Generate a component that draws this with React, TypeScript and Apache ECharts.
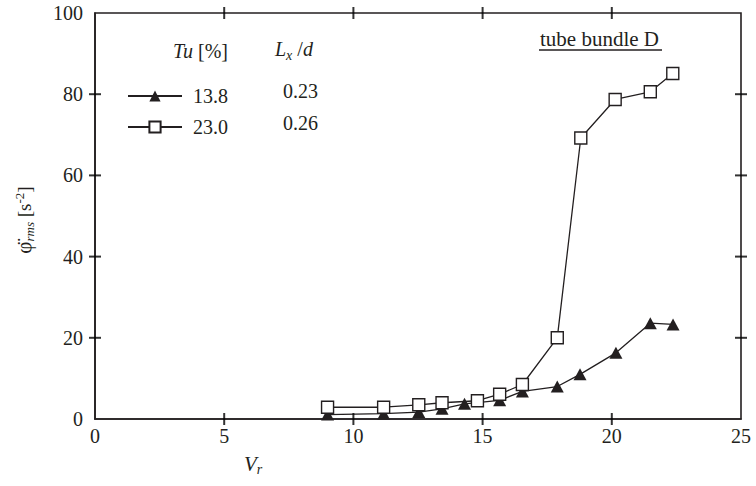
import React, { useEffect, useRef } from "react";
import * as echarts from "echarts";

const triX = [9.0, 11.17, 12.53, 13.43, 14.3, 15.66, 16.54, 17.89, 18.77, 20.16, 21.49, 22.37];
const triY = [1.1, 1.3, 1.7, 2.5, 3.75, 4.6, 6.8, 8.0, 11.0, 16.3, 23.6, 23.3];
const sqX = [9.0, 11.17, 12.53, 13.43, 14.8, 15.66, 16.54, 17.89, 18.8, 20.13, 21.49, 22.36];
const sqY = [2.9, 2.9, 3.5, 4.0, 4.5, 6.1, 8.5, 20.0, 69.2, 78.7, 80.6, 85.1];
const seriesNames = ["13.8", "23.0"];
const lengthScales = ["0.23", "0.26"];
const xTicks = [5, 10, 15, 20];
const yTicks = [20, 40, 60, 80];

const FONT = "'Liberation Serif', 'Times New Roman', 'DejaVu Serif', serif";
const INK = "#231f20";
const FS = 20;

export default function App() {
  const ref = useRef<HTMLDivElement>(null);
  useEffect(() => {
    if (!ref.current) return;
    const chart = echarts.init(ref.current, null, { renderer: "svg" });
    const pair = (xs: number[], ys: number[]) => xs.map((x, i) => [x, ys[i]]);
    const f = (size: number) => `${size}px ${FONT}`;
    const TL = 12;
    const TW = 2;
    const tickSeries = (data: number[][], size: number[]) => ({
      type: "scatter",
      data,
      symbol: "rect",
      symbolSize: size,
      itemStyle: { color: "#000" },
      silent: true,
      clip: true,
      z: 6,
    });
    chart.setOption({
      animation: false,
      backgroundColor: "#fff",
      textStyle: { fontFamily: FONT },
      grid: { left: 95, right: 15, top: 13, bottom: 67, show: true, borderColor: INK, borderWidth: 1.6, backgroundColor: "transparent" },
      xAxis: {
        type: "value", min: 0, max: 25, interval: 5,
        axisLine: { show: true, onZero: false, lineStyle: { color: INK, width: 1.6 } },
        axisTick: { show: false },
        splitLine: { show: false },
        axisLabel: { color: INK, fontSize: FS, fontFamily: FONT, margin: 7 },
      },
      yAxis: {
        type: "value", min: 0, max: 100, interval: 20,
        axisLine: { show: true, onZero: false, lineStyle: { color: INK, width: 1.6 } },
        axisTick: { show: false },
        splitLine: { show: false },
        axisLabel: { color: INK, fontSize: FS, fontFamily: FONT, margin: 12 },
      },
      legend: {
        orient: "vertical",
        left: 122,
        top: 81,
        itemWidth: 54,
        itemHeight: 14,
        itemGap: 11,
        textStyle: { color: INK, fontSize: FS, fontFamily: FONT, padding: [0, 0, 0, 6] },
        data: seriesNames,
      },
      series: [
        {
          name: seriesNames[0],
          type: "line",
          data: pair(triX, triY),
          symbol: "triangle",
          symbolSize: [13, 12],
          lineStyle: { color: INK, width: 1.3 },
          itemStyle: { color: INK, borderColor: INK, borderWidth: 0 },
          z: 3,
        },
        {
          name: seriesNames[1],
          type: "line",
          data: pair(sqX, sqY),
          symbol: "rect",
          symbolSize: 12,
          lineStyle: { color: INK, width: 1.3 },
          itemStyle: { color: "#fff", borderColor: INK, borderWidth: 1.4 },
          z: 4,
        },
        tickSeries(xTicks.map((v) => [v, 0]), [TW, TL]),
        tickSeries(xTicks.map((v) => [v, 100]), [TW, TL]),
        tickSeries(yTicks.map((v) => [0, v]), [TL, TW]),
        tickSeries(yTicks.map((v) => [25, v]), [TL, TW]),
      ],
      graphic: [
        {
          type: "text", left: 173, top: 41,
          style: {
            text: "{i|Tu} [%]",
            fill: INK, font: f(FS),
            rich: { i: { fontStyle: "italic", fontSize: FS, fontFamily: FONT } },
          },
        },
        {
          type: "text", left: 275, top: 39,
          style: {
            text: "{i|L}{s|x} /{i|d}",
            fill: INK, font: f(FS),
            rich: {
              i: { fontStyle: "italic", fontSize: FS, fontFamily: FONT },
              s: { fontStyle: "italic", fontSize: 14, fontFamily: FONT, padding: [12, 0, 0, 0] },
            },
          },
        },
        {
          type: "text", left: 283, top: 81,
          style: { text: lengthScales[0], fill: INK, font: f(FS) },
        },
        {
          type: "text", left: 283, top: 113,
          style: { text: lengthScales[1], fill: INK, font: f(FS) },
        },
        {
          type: "text", left: 540, top: 28,
          style: { text: "tube bundle D", fill: INK, font: f(21) },
        },
        {
          type: "line",
          shape: { x1: 539, y1: 50, x2: 662, y2: 50 },
          style: { stroke: INK, lineWidth: 1.6 },
        },
        {
          type: "text", left: 244, top: 453,
          style: {
            text: "{i|V}{s|r}",
            fill: INK, font: f(FS),
            rich: {
              i: { fontStyle: "italic", fontSize: 21, fontFamily: FONT },
              s: { fontStyle: "italic", fontSize: 14, fontFamily: FONT, padding: [12, 0, 0, 0] },
            },
          },
        },
        {
          type: "text",
          x: 24, y: 220,
          rotation: Math.PI / 2,
          style: {
            text: "{p|φ̈}{s|rms} [s{u|-2}]",
            align: "center",
            verticalAlign: "middle",
            fill: INK, font: f(19),
            rich: {
              p: { fontSize: 21, fontFamily: FONT },
              s: { fontStyle: "italic", fontSize: 13, fontFamily: FONT, padding: [11, 0, 0, 0] },
              u: { fontSize: 13, fontFamily: FONT, padding: [0, 0, 9, 0] },
            },
          },
        },
      ],
    });
    return () => chart.dispose();
  }, []);
  return <div ref={ref} style={{ width: 756, height: 486, position: "absolute", left: 0, top: 0 }} />;
}
